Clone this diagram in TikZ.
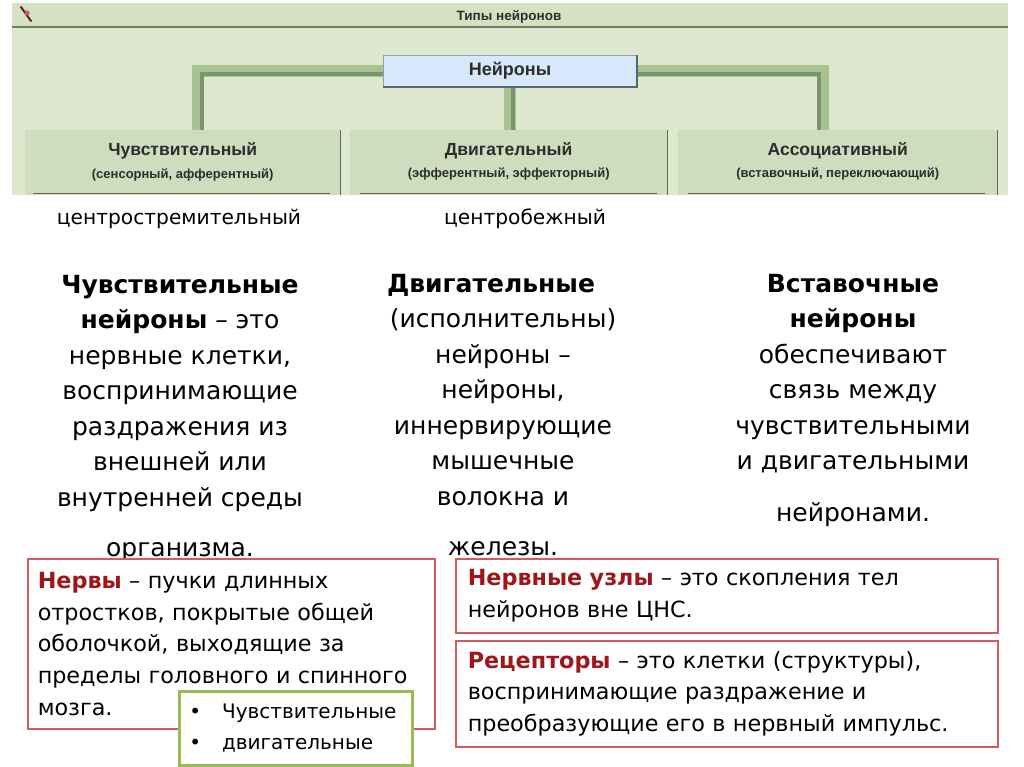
\documentclass[tikz,border=0pt]{standalone}
\usepackage{fontspec}
\setmainfont{DejaVu Sans}
\newfontfamily\panelfont{Liberation Sans}
\definecolor{panelbg}{RGB}{221,232,206}
\definecolor{barbg}{RGB}{212,225,194}
\definecolor{bardark}{RGB}{112,126,100}
\definecolor{catgreen}{RGB}{205,221,190}
\definecolor{catline}{RGB}{92,106,88}
\definecolor{wirelight}{RGB}{168,195,146}
\definecolor{wiredark}{RGB}{122,148,108}
\definecolor{rootblue}{RGB}{214,232,249}
\definecolor{rootline}{RGB}{140,160,175}
\definecolor{rootshadow}{RGB}{90,100,110}
\definecolor{paneltext}{RGB}{45,45,45}
\definecolor{boxred}{RGB}{208,92,92}
\definecolor{termred}{RGB}{158,22,26}
\definecolor{boxgreen}{RGB}{155,187,89}
\definecolor{icondark}{RGB}{80,40,30}
\definecolor{iconred}{RGB}{200,90,80}
\newcommand\term[1]{\textcolor{termred}{\textbf{#1}}}
\newcommand\catname[1]{{\fontsize{17.5}{19}\selectfont #1}}
\newcommand\catsub[1]{{\fontsize{13}{15}\selectfont #1}}
\begin{document}
\begin{tikzpicture}[x=1pt, y=-1pt,
    wire/.style={line width=12pt, wirelight},
    wireedge/.style={line width=3.5pt, wiredark},
    catbox/.style={fill=catgreen, minimum height=63pt, inner sep=0pt, anchor=north west,
        align=center, text=paneltext, font=\panelfont\bfseries},
    catedge/.style={catline, line width=1.5pt},
    rootbox/.style={fill=rootblue, draw=rootline, line width=0.6pt, minimum width=254pt,
        minimum height=32pt, text=paneltext, font=\panelfont\bfseries\fontsize{18}{20}\selectfont},
    coltext/.style={align=center, inner sep=0pt, anchor=base, font=\fontsize{25}{35.5}\selectfont},
    labeltext/.style={inner sep=0pt, anchor=base, font=\fontsize{20.2}{22}\selectfont},
    redbox/.style={draw=boxred, line width=1.5pt, fill=white, anchor=north west, inner xsep=10pt,
        inner ysep=0pt, align=left, font=\fontsize{22.3}{31.7}\selectfont},
    greenbox/.style={draw=boxgreen, line width=2.5pt, fill=white, anchor=north west, inner xsep=10pt,
        inner ysep=0pt, align=left, font=\fontsize{20}{31}\selectfont}]
    \useasboundingbox (0,0) rectangle (1024,767);

    % screenshot panel
    \begin{scope}
        \clip (0,0) rectangle (1024,195);
        \fill[panelbg] (12,3) rectangle (1008,200);
        \fill[barbg] (12,3) rectangle (1008,27);
        \draw[bardark, line width=2pt] (12,27) -- (1008,27);
        \node[text=paneltext, font=\panelfont\bfseries\fontsize{13.5}{15}\selectfont] (title) at (509,17) {Типы нейронов};
        \draw[icondark, line width=2pt, line cap=round] (21,7) -- (31,21);
        \fill[iconred] (27,13) circle (2.5pt);

        \node[rootbox] (root) at (510,71) {Нейроны};
        \coordinate (sensTop) at (198,130);
        \coordinate (motorTop) at (510,130);
        \coordinate (interTop) at (823,130);

        \draw[wire] (root.west) -| (sensTop);
        \draw[wire] (root.south) -- (motorTop);
        \draw[wire] (root.east) -| (interTop);
        \draw[wireedge] ([yshift=-3pt]root.west) -| ([xshift=4pt]sensTop);
        \draw[wireedge] ([xshift=3pt]root.south) -- ([xshift=3pt]motorTop);
        \draw[wireedge] ([yshift=-3pt]root.east) -| ([xshift=-4pt]interTop);

        \node[rootbox] (root) at (510,71) {Нейроны};
        \draw[rootshadow, line width=2pt] (root.south west) -- (root.south east) -- (root.north east);

        \node[catbox, minimum width=315pt] (sens) at (25,130)
            {\catname{Чувствительный}\\[8pt]\catsub{(сенсорный, афферентный)}};
        \node[catbox, minimum width=317pt] (motor) at (350,130)
            {\catname{Двигательный}\\[8pt]\catsub{(эфферентный, эффекторный)}};
        \node[catbox, minimum width=319pt] (inter) at (678,130)
            {\catname{Ассоциативный}\\[8pt]\catsub{(вставочный, переключающий)}};
        \fill[catgreen] (sens.south west) rectangle ([yshift=-4pt]sens.south east);
        \fill[catgreen] (motor.south west) rectangle ([yshift=-4pt]motor.south east);
        \fill[catgreen] (inter.south west) rectangle ([yshift=-4pt]inter.south east);
        \draw[catedge] (sens.north east) -- ([yshift=-4pt]sens.south east);
        \draw[catedge] (motor.north east) -- ([yshift=-4pt]motor.south east);
        \draw[catedge] (inter.north east) -- ([yshift=-4pt]inter.south east);
        \draw[catedge] ([xshift=8pt]sens.south west) -- ([xshift=-10pt]sens.south east);
        \draw[catedge] ([xshift=10pt]motor.south west) -- ([xshift=-10pt]motor.south east);
        \draw[catedge] ([xshift=10pt]inter.south west) -- ([xshift=-12pt]inter.south east);
    \end{scope}

    \node[labeltext] (centripetal) at (179,225) {центростремительный};
    \node[labeltext] (centrifugal) at (525,225) {центробежный};

    \node[coltext] (sensdef) at (180,556) {\textbf{Чувствительные}\\\textbf{нейроны} – это\\нервные клетки,\\воспринимающие\\раздражения из\\внешней или\\внутренней среды\\[14.5pt]организма.};
    \node[coltext] (motordef) at (503,555) {\textbf{Двигательные}\hspace*{24pt}\\(исполнительны)\\нейроны –\\нейроны,\\иннервирующие\\мышечные\\волокна и\\[14.5pt]железы.};
    \node[coltext] (interdef) at (853,521.5) {\textbf{Вставочные}\\\textbf{нейроны}\\обеспечивают\\связь между\\чувствительными\\и двигательными\\[16.5pt]нейронами.};

    \node[redbox, text width=387pt, minimum height=170pt] (nerves) at (27,558)
        {\term{Нервы} – пучки длинных\\отростков, покрытые общей\\оболочкой, выходящие за\\пределы головного и спинного\\мозга.};
    \node[redbox, text width=518pt, inner xsep=12pt, minimum height=74pt] (ganglia) at (455,558)
        {\term{Нервные узлы} – это скопления тел\\нейронов вне ЦНС.};
    \node[redbox, text width=518pt, inner xsep=12pt, minimum height=106pt] (receptors) at (455,640)
        {\term{Рецепторы} – это клетки (структуры),\\воспринимающие раздражение и\\преобразующие его в нервный импульс.};
    \node[greenbox, text width=213pt, minimum height=74pt] (kinds) at (178,690)
        {\textbullet\hspace{21pt}Чувствительные\\\textbullet\hspace{21pt}двигательные};
\end{tikzpicture}
\end{document}
